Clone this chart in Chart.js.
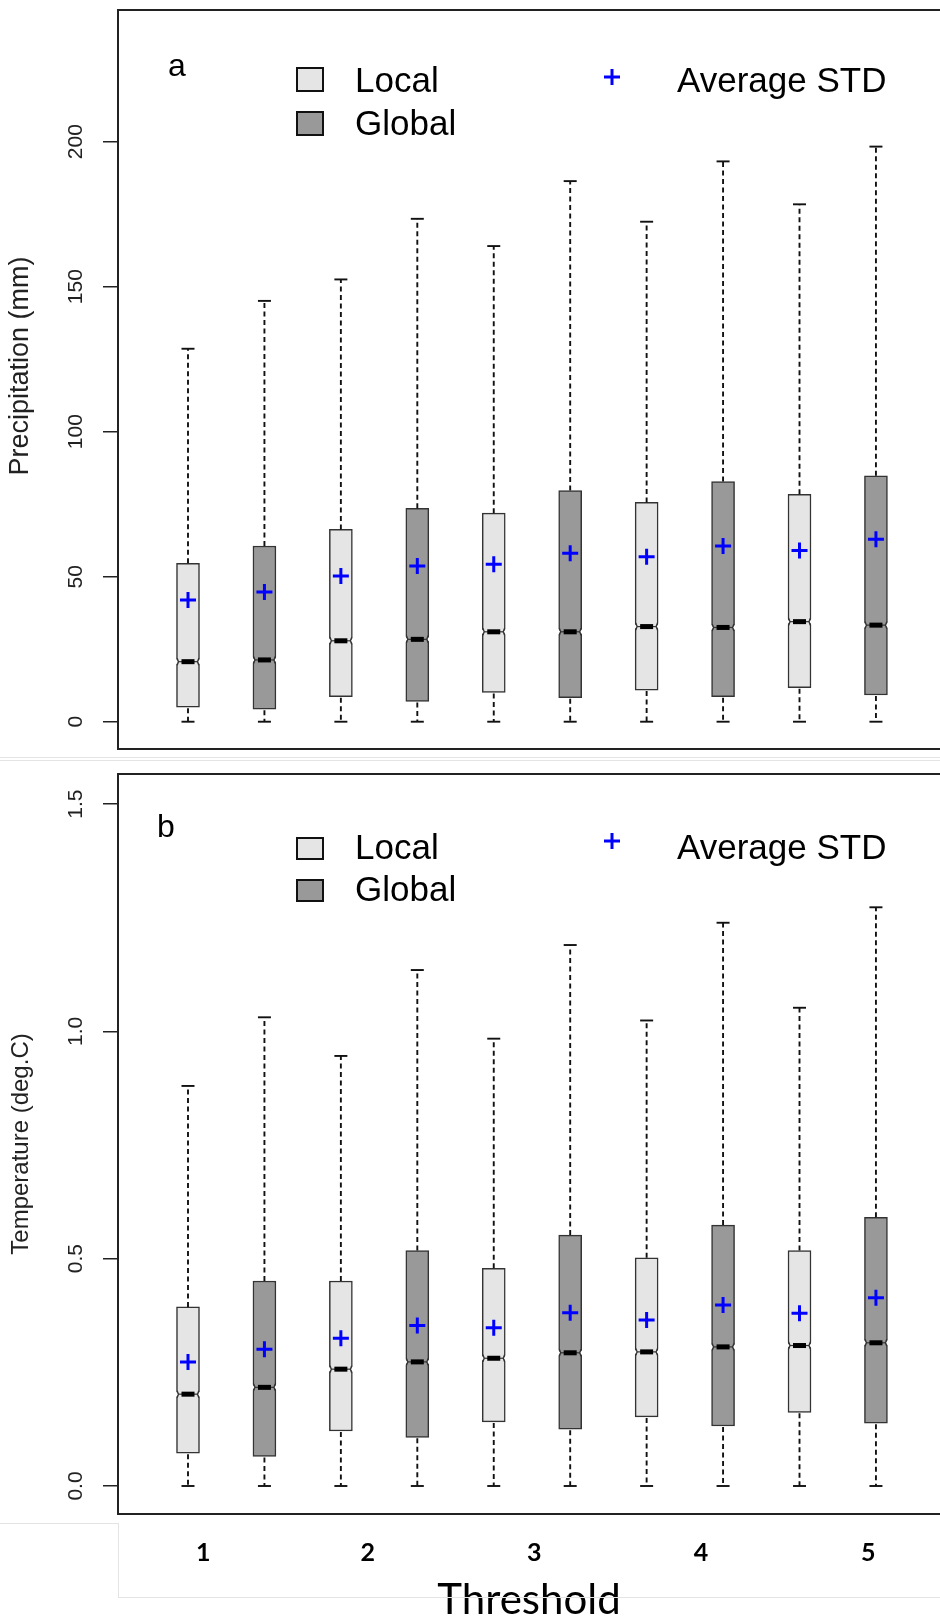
<!DOCTYPE html>
<html>
<head>
<meta charset="utf-8">
<title>Local vs Global boxplots</title>
<script src="https://cdn.jsdelivr.net/npm/chart.js@4.4.1/dist/chart.umd.min.js"></script>
<style>
  body { margin: 0; background: #fff; }
  #wrap { position: relative; width: 940px; height: 1621px; overflow: hidden; }
  canvas { position: absolute; left: 0; }
  #chartA { top: 0; }
  #chartB { top: 762px; }
  .rule { position: absolute; background: #e4e4e4; }
</style>
</head>
<body>
<div id="wrap">
  <canvas id="chartA" width="940" height="752"></canvas>
  <canvas id="chartB" width="940" height="859"></canvas>
  <div class="rule" style="left:0;top:757px;width:940px;height:1px"></div>
  <div class="rule" style="left:0;top:760px;width:940px;height:1px"></div>
  <div class="rule" style="left:0;top:1523px;width:118px;height:1px"></div>
  <div class="rule" style="left:118px;top:1523px;width:1px;height:74px"></div>
  <div class="rule" style="left:118px;top:1597px;width:822px;height:1px"></div>
</div>
<script>
const thresholds = ["1", "2", "3", "4", "5"];
// the pasted threshold labels don't sit on the box pairs, so keep their spots (box-index units)
const thresholdTickPos = [0.2, 2.35, 4.53, 6.71, 8.9];

// (a) precipitation, mm
const precipTicks = [0, 50, 100, 150, 200];
const precipLocalMin = [0, 0, 0, 0, 0];
const precipLocalQ1 = [5.0, 8.6, 10.1, 10.9, 11.7];
const precipLocalMed = [20.7, 27.9, 31.0, 32.8, 34.5];
const precipLocalQ3 = [54.6, 66.3, 71.9, 75.6, 78.4];
const precipLocalMax = [128.6, 152.5, 164.0, 172.4, 178.4];
const precipLocalMean = [42.0, 50.2, 54.3, 56.9, 59.0];
const precipGlobalMin = [0, 0, 0, 0, 0];
const precipGlobalQ1 = [4.3, 7.0, 8.3, 8.6, 9.2];
const precipGlobalMed = [21.3, 28.4, 31.0, 32.5, 33.3];
const precipGlobalQ3 = [60.6, 73.6, 79.7, 82.8, 84.8];
const precipGlobalMax = [145.1, 173.4, 186.4, 193.2, 198.3];
const precipGlobalMean = [44.7, 53.7, 58.1, 60.6, 62.9];

// (b) temperature, deg.C
const tempTicks = [0, 0.5, 1.0, 1.5];
const tempLocalMin = [0, 0, 0, 0, 0];
const tempLocalQ1 = [0.072, 0.121, 0.141, 0.152, 0.162];
const tempLocalMed = [0.202, 0.257, 0.281, 0.295, 0.309];
const tempLocalQ3 = [0.394, 0.451, 0.479, 0.502, 0.518];
const tempLocalMax = [0.880, 0.946, 0.984, 1.024, 1.052];
const tempLocalMean = [0.273, 0.325, 0.348, 0.365, 0.380];
const tempGlobalMin = [0, 0, 0, 0, 0];
const tempGlobalQ1 = [0.065, 0.107, 0.125, 0.132, 0.138];
const tempGlobalMed = [0.217, 0.273, 0.293, 0.306, 0.315];
const tempGlobalQ3 = [0.451, 0.518, 0.552, 0.574, 0.591];
const tempGlobalMax = [1.031, 1.135, 1.190, 1.239, 1.273];
const tempGlobalMean = [0.301, 0.353, 0.381, 0.398, 0.414];

const LOCAL_FILL = "#e5e5e5";
const GLOBAL_FILL = "#999999";
const EDGE = "#333";
const SANS = '"Liberation Sans", Arial, sans-serif';

function line(ctx, x1, y1, x2, y2) {
  ctx.beginPath();
  ctx.moveTo(x1, y1);
  ctx.lineTo(x2, y2);
  ctx.stroke();
}

// small notch pinch on one side of the box at the median
function notch(ctx, xEdge, dir, yMid) {
  ctx.fillStyle = "#fff";
  ctx.beginPath();
  ctx.moveTo(xEdge - dir, yMid - 3.5);
  ctx.lineTo(xEdge + dir * 1.6, yMid);
  ctx.lineTo(xEdge - dir, yMid + 3.5);
  ctx.closePath();
  ctx.fill();
  ctx.strokeStyle = EDGE;
  ctx.lineWidth = 1.3;
  ctx.beginPath();
  ctx.moveTo(xEdge + dir * 0.7, yMid - 3.5);
  ctx.lineTo(xEdge + dir * 2, yMid);
  ctx.lineTo(xEdge + dir * 0.7, yMid + 3.5);
  ctx.stroke();
}

// whiskers, caps and medians on top of the floating bars
const boxPlotPlugin = {
  id: "boxPlot",
  afterDatasetsDraw(chart) {
    const ctx = chart.ctx;
    const y = chart.scales.y;
    chart.data.datasets.forEach((ds, di) => {
      if (!ds.stats) return;
      const s = ds.stats;
      chart.getDatasetMeta(di).data.forEach((bar, j) => {
        const x = bar.x;
        const half = bar.width / 2;
        const pMin = y.getPixelForValue(s.min[j]);
        const pQ1 = y.getPixelForValue(s.q1[j]);
        const pMed = y.getPixelForValue(s.med[j]);
        const pQ3 = y.getPixelForValue(s.q3[j]);
        const pMax = y.getPixelForValue(s.max[j]);
        ctx.save();
        ctx.strokeStyle = "#111";
        ctx.lineWidth = 1.9;
        ctx.setLineDash([5, 3.5]);
        line(ctx, x, pQ3, x, pMax);
        line(ctx, x, pQ1 + 1, x, pMin);
        ctx.setLineDash([]);
        line(ctx, x - 6.5, pMax, x + 6.5, pMax);
        line(ctx, x - 6.5, pMin, x + 6.5, pMin);
        notch(ctx, x - half, 1, pMed);
        notch(ctx, x + half, -1, pMed);
        ctx.strokeStyle = EDGE;
        ctx.lineWidth = 1.2;
        line(ctx, x - half + 2, pMed, x + half - 2, pMed);
        ctx.fillStyle = "#000";
        ctx.fillRect(x - 6.5, pMed - 2.5, 13, 5);
        ctx.restore();
      });
    });
  }
};

// frame, rotated y labels, y title and the hand placed legend
const panelPlugin = {
  id: "panel",
  afterDraw(chart, args, opts) {
    const ctx = chart.ctx;
    const area = chart.chartArea;
    const y = chart.scales.y;
    ctx.save();
    ctx.strokeStyle = "#222";
    ctx.lineWidth = 2;
    ctx.strokeRect(area.left, area.top, area.right - area.left + 10, area.bottom - area.top);

    ctx.fillStyle = "#222";
    ctx.font = "21px " + SANS;
    ctx.textAlign = "center";
    ctx.textBaseline = "middle";
    opts.ticks.forEach(v => {
      ctx.save();
      ctx.translate(76, y.getPixelForValue(v));
      ctx.rotate(-Math.PI / 2);
      ctx.fillText(opts.format(v), 0, 0);
      ctx.restore();
    });

    ctx.save();
    ctx.font = opts.titleSize + "px " + SANS;
    ctx.translate(21, opts.titleY);
    ctx.rotate(-Math.PI / 2);
    ctx.fillText(opts.title, 0, 0);
    ctx.restore();

    const lg = opts.legend;
    ctx.fillStyle = "#000";
    ctx.textAlign = "left";
    ctx.textBaseline = "alphabetic";
    ctx.font = "32px " + SANS;
    ctx.fillText(lg.letter, lg.letterX, lg.letterY);

    ctx.lineWidth = 2;
    ctx.strokeStyle = "#111";
    [[LOCAL_FILL, "Local"], [GLOBAL_FILL, "Global"]].forEach(([fill, text], k) => {
      const row = lg.rows[k];
      ctx.fillStyle = fill;
      ctx.fillRect(297, row.boxY, 26, row.boxH);
      ctx.strokeRect(297, row.boxY, 26, row.boxH);
      ctx.fillStyle = "#000";
      ctx.font = "35px " + SANS;
      ctx.fillText(text, 355, row.textY);
    });
    ctx.strokeStyle = "#0000ff";
    ctx.lineWidth = 3;
    line(ctx, 604, lg.plusY, 620, lg.plusY);
    line(ctx, 612, lg.plusY - 8, 612, lg.plusY + 8);
    ctx.fillText("Average STD", 677, lg.rows[0].textY);
    ctx.restore();
  }
};

function boxDataset(label, fill, offset, stats) {
  return {
    type: "bar",
    label: label,
    data: stats.q1.map((v, i) => ({ x: i * 2 + offset, y: [v, stats.q3[i]] })),
    stats: stats,
    backgroundColor: fill,
    borderColor: EDGE,
    borderWidth: 1.5,
    borderSkipped: false,
    barThickness: 23,
    grouped: false,
    order: 2
  };
}

function meanDataset(localMean, globalMean) {
  return {
    type: "scatter",
    label: "Average STD",
    data: thresholds.flatMap((t, i) => [
      { x: i * 2, y: localMean[i] },
      { x: i * 2 + 1, y: globalMean[i] }
    ]),
    pointStyle: "cross",
    pointRadius: 8,
    pointHoverRadius: 8,
    borderColor: "#0000ff",
    borderWidth: 3,
    order: 1
  };
}

function makePanel(id, cfg) {
  const showX = cfg.showX;
  return new Chart(document.getElementById(id), {
    type: "bar",
    data: {
      datasets: [
        meanDataset(cfg.local.mean, cfg.global.mean),
        boxDataset("Local", LOCAL_FILL, 0, cfg.local),
        boxDataset("Global", GLOBAL_FILL, 1, cfg.global)
      ]
    },
    options: {
      responsive: false,
      animation: false,
      devicePixelRatio: 1,
      layout: {
        autoPadding: false,
        padding: { top: cfg.top, bottom: showX ? 0 : cfg.bottomPad, left: 0, right: 0 }
      },
      plugins: {
        legend: { display: false },
        tooltip: { enabled: false },
        panel: cfg.panel
      },
      scales: {
        x: {
          type: "linear",
          min: -0.9157,
          max: 9.838,
          offset: false,
          display: showX,
          afterBuildTicks: s => { s.ticks = thresholdTickPos.map(v => ({ value: v })); },
          afterFit: s => { if (showX) s.height = 107; },
          grid: { display: false, drawTicks: false },
          border: { display: false },
          ticks: {
            autoSkip: false,
            maxRotation: 0,
            padding: 24,
            color: "#000",
            font: { family: "Lato, sans-serif", size: 25, weight: "bold" },
            callback: (v, i) => thresholds[i]
          },
          title: {
            display: true,
            text: "Threshold",
            color: "#000",
            font: { family: "Lato, sans-serif", size: 42, lineHeight: 1 },
            padding: { top: 0, bottom: 0 }
          }
        },
        y: {
          type: "linear",
          min: cfg.yMin,
          max: cfg.yMax,
          afterBuildTicks: s => { s.ticks = cfg.panel.ticks.map(v => ({ value: v })); },
          afterFit: s => { s.width = 118; },
          ticks: { display: false },
          grid: { drawOnChartArea: false, drawTicks: true, tickLength: 15, color: "#222", lineWidth: 1.5 },
          border: { display: false }
        }
      }
    },
    plugins: [boxPlotPlugin, panelPlugin]
  });
}

makePanel("chartA", {
  showX: false,
  top: 10,
  bottomPad: 3,
  yMin: -9.41,
  yMax: 245.4,
  local: { min: precipLocalMin, q1: precipLocalQ1, med: precipLocalMed, q3: precipLocalQ3, max: precipLocalMax, mean: precipLocalMean },
  global: { min: precipGlobalMin, q1: precipGlobalQ1, med: precipGlobalMed, q3: precipGlobalQ3, max: precipGlobalMax, mean: precipGlobalMean },
  panel: {
    ticks: precipTicks,
    format: v => String(v),
    title: "Precipitation (mm)",
    titleSize: 27,
    titleY: 366,
    legend: {
      letter: "a", letterX: 168, letterY: 76, plusY: 77,
      rows: [{ boxY: 68, boxH: 23, textY: 92 }, { boxY: 112, boxH: 23, textY: 135 }]
    }
  }
});

makePanel("chartB", {
  showX: true,
  top: 12,
  yMin: -0.0616,
  yMax: 1.5662,
  local: { min: tempLocalMin, q1: tempLocalQ1, med: tempLocalMed, q3: tempLocalQ3, max: tempLocalMax, mean: tempLocalMean },
  global: { min: tempGlobalMin, q1: tempGlobalQ1, med: tempGlobalMed, q3: tempGlobalQ3, max: tempGlobalMax, mean: tempGlobalMean },
  panel: {
    ticks: tempTicks,
    format: v => v.toFixed(1),
    title: "Temperature (deg.C)",
    titleSize: 24,
    titleY: 382,
    legend: {
      letter: "b", letterX: 157, letterY: 75, plusY: 79,
      rows: [{ boxY: 76, boxH: 21, textY: 97 }, { boxY: 118, boxH: 21, textY: 139 }]
    }
  }
});
</script>
</body>
</html>
